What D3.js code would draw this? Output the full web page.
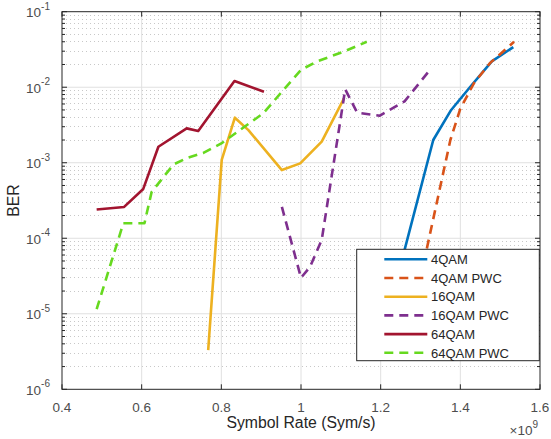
<!DOCTYPE html>
<html>
<head>
<meta charset="utf-8">
<script src="https://cdn.jsdelivr.net/npm/d3@7"></script>
<style>
  html, body { margin: 0; padding: 0; background: #fff; }
  svg { display: block; font-family: "Liberation Sans", Arial, Helvetica, sans-serif; }
</style>
</head>
<body>
<svg id="chart" width="551" height="439"></svg>
<script>
// ---- data ----
const xTickValues = [0.4, 0.6, 0.8, 1.0, 1.2, 1.4, 1.6];
const xTickLabels = ["0.4", "0.6", "0.8", "1", "1.2", "1.4", "1.6"];
const yTickExponents = [-6, -5, -4, -3, -2, -1];

const qam4X = [1.25, 1.332, 1.377, 1.424, 1.479, 1.533];
const qam4Y = [4.4e-5, 2.0e-3, 5.0e-3, 1.0e-2, 2.2e-2, 3.4e-2];

const qam4pwcX = [1.30, 1.375, 1.40, 1.435, 1.475, 1.535];
const qam4pwcY = [3.0e-5, 2.0e-3, 5.2e-3, 1.15e-2, 2.1e-2, 4.0e-2];

const qam16X = [0.767, 0.801, 0.834, 0.868, 0.952, 0.998, 1.052, 1.108];
const qam16Y = [3.3e-6, 1.09e-3, 3.95e-3, 2.7e-3, 8.0e-4, 9.8e-4, 1.9e-3, 7.1e-3];

const qam16pwcX = [0.952, 1.0, 1.023, 1.052, 1.111, 1.141, 1.198, 1.26, 1.324];
const qam16pwcY = [2.6e-4, 3.0e-5, 4.2e-5, 9.5e-5, 9.4e-3, 4.6e-3, 4.2e-3, 6.5e-3, 1.7e-2];

const qam64X = [0.487, 0.556, 0.604, 0.642, 0.713, 0.742, 0.833, 0.907];
const qam64Y = [2.4e-4, 2.6e-4, 4.5e-4, 1.63e-3, 2.85e-3, 2.63e-3, 1.21e-2, 8.7e-3];

const qam64pwcX = [0.487, 0.554, 0.607, 0.625, 0.68, 0.713, 0.755, 0.80, 0.905, 1.0, 1.039, 1.11, 1.165];
const qam64pwcY = [1.15e-5, 1.58e-4, 1.58e-4, 4.1e-4, 9.5e-4, 1.15e-3, 1.35e-3, 1.8e-3, 4.5e-3, 1.7e-2, 2.18e-2, 3.0e-2, 4.0e-2];

const seriesNames = ["4QAM", "4QAM PWC", "16QAM", "16QAM PWC", "64QAM", "64QAM PWC"];
const seriesColors = ["#0072BD", "#D95319", "#EDB120", "#7E2F8E", "#A2142F", "#66D91F"];
const seriesDashed = [false, true, false, true, false, true];

const series = [
  [qam4X, qam4Y], [qam4pwcX, qam4pwcY], [qam16X, qam16Y],
  [qam16pwcX, qam16pwcY], [qam64X, qam64Y], [qam64pwcX, qam64pwcY]
].map((s, i) => ({
  name: seriesNames[i], color: seriesColors[i], dashed: seriesDashed[i],
  pts: s[0].map((x, j) => [x, s[1][j]])
}));

// ---- layout ----
const L = 62, R = 540, T = 11.7, B = 389.3;
const svg = d3.select("#chart");
const x = d3.scaleLinear().domain([0.4, 1.6]).range([L, R]);
const y = d3.scaleLog().domain([1e-6, 1e-1]).range([B, T]);

const axisColor = "#262626";
const tickTextColor = "#4d4d4d";

// minor grid (dotted)
const minorVals = [];
for (let e = -6; e < -1; e++) for (let m = 2; m <= 9; m++) minorVals.push(m * Math.pow(10, e));
svg.append("g").selectAll("line").data(minorVals).join("line")
  .attr("x1", L).attr("x2", R)
  .attr("y1", d => y(d)).attr("y2", d => y(d))
  .attr("stroke", "#c8c8c8").attr("stroke-width", 1)
  .attr("stroke-dasharray", "1,3").attr("shape-rendering", "crispEdges");

// major grid
svg.append("g").selectAll("line").data(xTickValues.slice(1, -1)).join("line")
  .attr("x1", d => x(d)).attr("x2", d => x(d)).attr("y1", T).attr("y2", B)
  .attr("stroke", "#e0e0e0").attr("stroke-width", 1);
svg.append("g").selectAll("line").data(yTickExponents.slice(1, -1)).join("line")
  .attr("x1", L).attr("x2", R).attr("y1", d => y(Math.pow(10, d))).attr("y2", d => y(Math.pow(10, d)))
  .attr("stroke", "#e0e0e0").attr("stroke-width", 1);

// series lines
const line = d3.line().x(d => x(d[0])).y(d => y(d[1]));
svg.append("g").selectAll("path").data(series).join("path")
  .attr("d", d => line(d.pts))
  .attr("fill", "none")
  .attr("stroke", d => d.color)
  .attr("stroke-width", 2.6)
  .attr("stroke-linejoin", "round")
  .attr("stroke-dasharray", d => d.dashed ? "9,6" : null);

// axes box
svg.append("rect").attr("x", L).attr("y", T).attr("width", R - L).attr("height", B - T)
  .attr("fill", "none").attr("stroke", axisColor).attr("stroke-width", 1);

// ticks (inward, both sides)
const tk = svg.append("g").attr("stroke", axisColor).attr("stroke-width", 1);
xTickValues.forEach(v => {
  tk.append("line").attr("x1", x(v)).attr("x2", x(v)).attr("y1", B).attr("y2", B - 5);
  tk.append("line").attr("x1", x(v)).attr("x2", x(v)).attr("y1", T).attr("y2", T + 5);
});
yTickExponents.forEach(e => {
  const yy = y(Math.pow(10, e));
  tk.append("line").attr("x1", L).attr("x2", L + 5).attr("y1", yy).attr("y2", yy);
  tk.append("line").attr("x1", R).attr("x2", R - 5).attr("y1", yy).attr("y2", yy);
});
minorVals.forEach(v => {
  const yy = y(v);
  tk.append("line").attr("x1", L).attr("x2", L + 3).attr("y1", yy).attr("y2", yy);
  tk.append("line").attr("x1", R).attr("x2", R - 3).attr("y1", yy).attr("y2", yy);
});

// x tick labels
svg.append("g").selectAll("text").data(xTickValues).join("text")
  .attr("x", d => x(d)).attr("y", 411.5)
  .attr("text-anchor", "middle").attr("font-size", 13.5).attr("fill", tickTextColor)
  .text((d, i) => xTickLabels[i]);

// y tick labels
const yl = svg.append("g");
yTickExponents.forEach(e => {
  const t = yl.append("text").attr("x", 50).attr("y", y(Math.pow(10, e)) + 5.5)
    .attr("text-anchor", "end").attr("fill", tickTextColor).attr("font-size", 13.5);
  t.append("tspan").text("10");
  t.append("tspan").attr("dy", -7.5).attr("font-size", 10).text(String(e));
});

// axis labels
svg.append("text").attr("x", (L + R) / 2).attr("y", 428)
  .attr("text-anchor", "middle").attr("font-size", 15.8).attr("fill", "#262626")
  .text("Symbol Rate (Sym/s)");
svg.append("text").attr("transform", `translate(19,${(T + B) / 2}) rotate(-90)`)
  .attr("text-anchor", "middle").attr("font-size", 15.8).attr("fill", "#262626")
  .text("BER");

// exponent
const ex = svg.append("text").attr("x", 538).attr("y", 435)
  .attr("text-anchor", "end").attr("font-size", 13.5).attr("fill", tickTextColor);
ex.append("tspan").text("\u00d710");
ex.append("tspan").attr("dy", -7.5).attr("font-size", 10).text("9");

// legend
const lg = svg.append("g");
lg.append("rect").attr("x", 356.7).attr("y", 249.3).attr("width", 182.6).attr("height", 111.4)
  .attr("fill", "#fff").attr("stroke", axisColor).attr("stroke-width", 1);
series.forEach((s, i) => {
  const yy = 259.3 + i * 18.7;
  lg.append("line").attr("x1", 384.3).attr("x2", 427.3).attr("y1", yy).attr("y2", yy)
    .attr("stroke", s.color).attr("stroke-width", 2.6)
    .attr("stroke-dasharray", s.dashed ? "9,6" : null);
  lg.append("text").attr("x", 431).attr("y", yy + 4.7)
    .attr("font-size", 13).attr("fill", "#262626").text(s.name);
});
</script>
</body>
</html>
